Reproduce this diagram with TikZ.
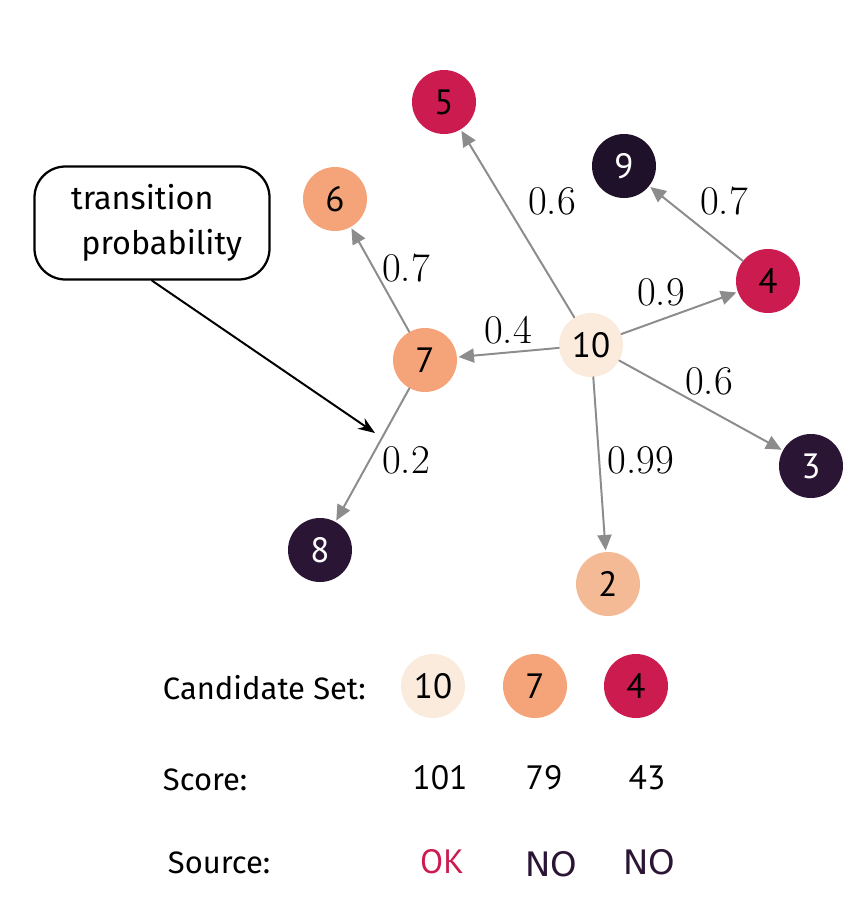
\documentclass[tikz,border=0pt]{standalone}
\usepackage{fontspec}
\newfontfamily\handfont{Fira Sans}
\newfontfamily\numfont{PT Sans}
\newfontfamily\wordfont{DejaVu Sans}
\usetikzlibrary{arrows.meta}
\definecolor{cream}{HTML}{FBEBDD}
\definecolor{peach}{HTML}{F5A47A}
\definecolor{lpeach}{HTML}{F4BA95}
\definecolor{crimson}{HTML}{CB1B4F}
\definecolor{ink}{HTML}{1E1129}
\definecolor{plum}{HTML}{2B1535}
\begin{document}
\begin{tikzpicture}[x=0.025cm,y=-0.025cm,line join=round,line cap=round,
	state/.style={circle,minimum size=64*0.025cm,inner sep=0pt,font=\numfont\fontsize{25}{25}\selectfont},
	edge/.style={draw=gray!90,line width=1.4pt,-{Triangle[length=11pt,width=10pt]},shorten >=1pt},
	prob/.style={font=\fontsize{29}{29}\selectfont},
	hand/.style={font=\handfont\fontsize{22}{26}\selectfont,anchor=west}]
	\useasboundingbox (0,0) rectangle (855,909);
	% graph
	\node[state,fill=cream] (n10) at (591,345) {10};
	\node[state,fill=peach] (n7) at (425,360) {7};
	\node[state,fill=peach] (n6) at (335,199) {6};
	\node[state,fill=crimson] (n5) at (444,102) {5};
	\node[state,fill=crimson] (n4) at (768,281) {4};
	\node[state,fill=ink,text=white] (n9) at (624,166) {9};
	\node[state,fill=plum,text=white] (n3) at (811,466) {3};
	\node[state,fill=plum,text=white] (n8) at (320,550) {8};
	\node[state,fill=lpeach] (n2) at (608,584) {2};
	\draw[edge] (n10) -- (n5) node[prob] at (552,201) {0.6};
	\draw[edge] (n10) -- (n7) node[prob] at (508,330) {0.4};
	\draw[edge] (n10) -- (n4) node[prob] at (661,292) {0.9};
	\draw[edge] (n10) -- (n3) node[prob] at (709,381) {0.6};
	\draw[edge] (n10) -- (n2) node[prob] at (641,460) {0.99};
	\draw[edge] (n7) -- (n6) node[prob] at (406,268) {0.7};
	\draw[edge] (n7) -- (n8) node[prob] at (406,460) {0.2};
	\draw[edge] (n4) -- (n9) node[prob] at (724,201) {0.7};
	% callout
	\node[draw,line width=1.6pt,rounded corners=22pt,minimum width=235*0.025cm,minimum height=113*0.025cm,
		align=center,font=\handfont\fontsize{23}{32}\selectfont] (note) at (152,223) {transition\hspace*{0.6em}\\\hspace*{0.6em}probability};
	\coordinate (tip) at (375,433);
	\draw[line width=1.4pt,-{Stealth[length=12pt,width=9pt]}] (note.south) -- (tip);
	% candidate table
	\node[hand] (cand) at (158,688) {Candidate Set:};
	\node[hand] (score) at (158,780) {Score:};
	\node[hand] (src) at (163,863) {Source:};
	\foreach \n/\x/\c in {10/433/cream,7/535/peach,4/636/crimson}
		\node[state,fill=\c] (c\n) at (\x,686) {\n};
	\foreach \s/\x in {101/440,79/544,43/647}
		\node[font=\numfont\fontsize{24}{24}\selectfont] (s\s) at (\x,778) {\s};
	\node[font=\numfont\fontsize{24}{24}\selectfont,text=crimson] (ok) at (442,862) {OK};
	\node[font=\wordfont\fontsize{24}{24}\selectfont,text=plum] (no1) at (551,864) {NO};
	\node[font=\wordfont\fontsize{24}{24}\selectfont,text=plum] (no2) at (649,862) {NO};
\end{tikzpicture}
\end{document}
